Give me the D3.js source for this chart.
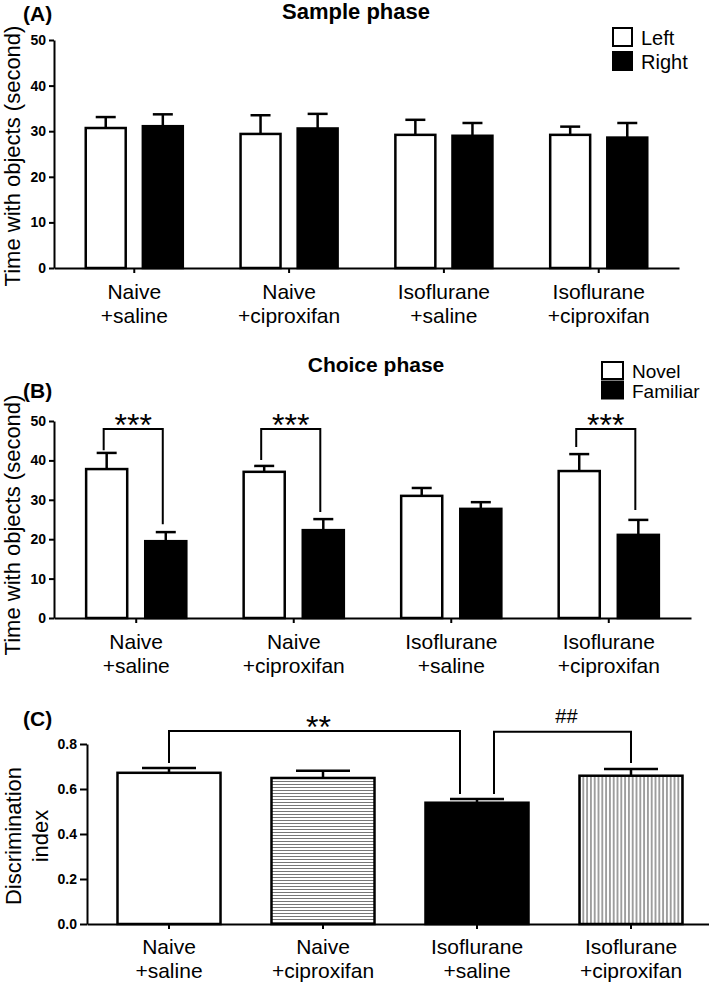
<!DOCTYPE html>
<html>
<head>
<meta charset="utf-8">
<script src="https://cdn.jsdelivr.net/npm/d3@7"></script>
<style>
  body { margin: 0; background: #fff; }
  svg { font-family: "Liberation Sans", Arial, sans-serif; }
</style>
</head>
<body>
<svg id="chart" width="709" height="983"></svg>
<script>
// group names (split on the space into two label lines)
const categories = ["Naive +saline", "Naive +ciproxifan", "Isoflurane +saline", "Isoflurane +ciproxifan"];

// (A) sample phase, seconds, mean and SEM
const sampleSeries = ["Left", "Right"];
const sampleLeft = [30.7, 29.4, 29.2, 29.2];
const sampleLeftSem = [2.4, 4.1, 3.3, 1.8];
const sampleRight = [31.1, 30.6, 29.0, 28.6];
const sampleRightSem = [2.6, 3.2, 2.8, 3.2];

// (B) choice phase
const choiceSeries = ["Novel", "Familiar"];
const choiceNovel = [37.8, 37.1, 31.0, 37.3];
const choiceNovelSem = [4.1, 1.5, 2.0, 4.3];
const choiceFamiliar = [19.5, 22.3, 27.7, 21.1];
const choiceFamiliarSem = [2.3, 2.8, 1.7, 3.8];
// brackets: group index, top, left end, right end (seconds)
const choiceSig = [
  { group: 0, top: 48, left: 42.6, right: 23.8, label: "***" },
  { group: 1, top: 48, left: 40.1, right: 26.9, label: "***" },
  { group: 3, top: 48, left: 43.4, right: 27.4, label: "***" }
];

// (C) discrimination index
const discIndex = [0.672, 0.649, 0.539, 0.659];
const discSem = [0.021, 0.032, 0.017, 0.030];
const discSig = [
  { from: 0, to: 2, top: 0.858, fromY: 0.716, toY: 0.578, label: "**" },
  { from: 2, to: 3, top: 0.855, fromY: 0.578, toY: 0.716, label: "##" }
];

const timeTicks = [0, 10, 20, 30, 40, 50];
const discTicks = [0, 0.2, 0.4, 0.6, 0.8];

const svg = d3.select("#chart");
const defs = svg.append("defs");

defs.append("pattern")
  .attr("id", "hlines")
  .attr("patternUnits", "userSpaceOnUse")
  .attr("width", 6).attr("height", 3)
  .call(p => {
    p.append("rect").attr("width", 6).attr("height", 3).attr("fill", "#fff");
    p.append("line").attr("x1", 0).attr("x2", 6).attr("y1", 1.5).attr("y2", 1.5)
      .attr("stroke", "#777").attr("stroke-width", 1);
  });

defs.append("pattern")
  .attr("id", "vlines")
  .attr("patternUnits", "userSpaceOnUse")
  .attr("width", 3.8).attr("height", 6)
  .call(p => {
    p.append("rect").attr("width", 3.8).attr("height", 6).attr("fill", "#fff");
    p.append("line").attr("x1", 1.9).attr("x2", 1.9).attr("y1", 0).attr("y2", 6)
      .attr("stroke", "#444").attr("stroke-width", 1);
  });

function styleAxis(ax) {
  ax.select(".domain").attr("stroke-width", 2);
  ax.selectAll(".tick line").attr("stroke-width", 2);
}

function xLabels(g, x, yPos) {
  categories.forEach(c => {
    const lines = c.split(" ");
    const t = g.append("text")
      .attr("text-anchor", "middle")
      .attr("font-size", 21)
      .attr("x", x(c) + x.bandwidth() / 2)
      .attr("y", yPos + 31);
    t.append("tspan").text(lines[0]);
    t.append("tspan").attr("x", x(c) + x.bandwidth() / 2).attr("dy", 24).text(lines[1]);
  });
}

function groupedPanel(cfg) {
  const g = svg.append("g");
  const x = d3.scaleBand().domain(categories)
    .range([cfg.x0, cfg.x1]).paddingInner(cfg.pi).paddingOuter(cfg.po);
  const xs = d3.scaleBand().domain(cfg.series)
    .range([0, x.bandwidth()]).paddingInner(cfg.spi);
  const y = d3.scaleLinear().domain([0, 50]).range([cfg.y0, cfg.y1]);

  cfg.series.forEach((s, si) => {
    const vals = cfg.values[si], sems = cfg.sems[si];
    categories.forEach((c, i) => {
      const bx = x(c) + xs(s);
      const cx = bx + xs.bandwidth() / 2;
      const top = y(vals[i] + sems[i]);
      g.append("line").attr("x1", cx).attr("x2", cx)
        .attr("y1", y(vals[i])).attr("y2", top)
        .attr("stroke", "#000").attr("stroke-width", 2.5);
      g.append("line").attr("x1", cx - 10).attr("x2", cx + 10)
        .attr("y1", top).attr("y2", top)
        .attr("stroke", "#000").attr("stroke-width", 2.5);
      g.append("rect")
        .attr("x", bx).attr("y", y(vals[i]))
        .attr("width", xs.bandwidth()).attr("height", y(0) - y(vals[i]))
        .attr("fill", si ? "#000" : "#fff")
        .attr("stroke", "#000").attr("stroke-width", 2.5);
    });
  });

  const ya = g.append("g").attr("transform", `translate(${cfg.x0},0)`)
    .call(d3.axisLeft(y).tickValues(timeTicks).tickSize(5).tickSizeOuter(0).tickPadding(3));
  ya.selectAll("text").attr("font-size", 14).attr("font-weight", "bold").attr("fill", "#000");
  styleAxis(ya);

  const xa = g.append("g").attr("transform", `translate(0,${cfg.y0})`)
    .call(d3.axisBottom(x).tickSize(5).tickSizeOuter(0).tickFormat(""));
  styleAxis(xa);
  xLabels(g, x, cfg.y0);

  g.append("text")
    .attr("transform", `translate(20,${cfg.labelY}) rotate(-90)`)
    .attr("text-anchor", "middle").attr("font-size", 22)
    .text("Time with objects (second)");

  g.append("text").attr("x", cfg.titleX).attr("y", cfg.titleY)
    .attr("text-anchor", "middle").attr("font-size", cfg.titleSize).attr("font-weight", "bold")
    .text(cfg.title);
  g.append("text").attr("x", 23).attr("y", cfg.tagY)
    .attr("font-size", 21).attr("font-weight", "bold").text(cfg.tag);

  // legend
  cfg.series.forEach((s, si) => {
    g.append("rect")
      .attr("x", cfg.legX).attr("y", cfg.legY + si * cfg.legStep)
      .attr("width", cfg.legW).attr("height", cfg.legH)
      .attr("fill", si ? "#000" : "#fff").attr("stroke", "#000").attr("stroke-width", 2);
    g.append("text")
      .attr("x", cfg.legX + cfg.legW + 9).attr("y", cfg.legY + si * cfg.legStep + cfg.legH - 1)
      .attr("font-size", cfg.legFont).text(s);
  });

  (cfg.sig || []).forEach(d => {
    const c = categories[d.group];
    const xl = x(c) + xs(cfg.series[0]) + xs.bandwidth() / 2 - 3;
    const xr = x(c) + xs(cfg.series[1]) + xs.bandwidth() / 2 - 3;
    g.append("path")
      .attr("d", `M${xl},${y(d.left)}V${y(d.top)}H${xr}V${y(d.right)}`)
      .attr("fill", "none").attr("stroke", "#000").attr("stroke-width", 2);
    g.append("text").attr("x", (xl + xr) / 2).attr("y", y(d.top) + 7)
      .attr("text-anchor", "middle").attr("font-size", 32).text(d.label);
  });
}

groupedPanel({
  x0: 54, x1: 679, y0: 268, y1: 40, pi: 0.373, po: 0.205, spi: 0.3,
  series: sampleSeries,
  values: [sampleLeft, sampleRight], sems: [sampleLeftSem, sampleRightSem],
  title: "Sample phase", titleX: 356, titleY: 19, titleSize: 22,
  tag: "(A)", tagY: 21, labelY: 156,
  legX: 613, legY: 28, legW: 19, legH: 18, legStep: 24, legFont: 20
});

groupedPanel({
  x0: 54, x1: 691, y0: 618, y1: 421, pi: 0.364, po: 0.204, spi: 0.305,
  series: choiceSeries,
  values: [choiceNovel, choiceFamiliar], sems: [choiceNovelSem, choiceFamiliarSem],
  title: "Choice phase", titleX: 376, titleY: 372, titleSize: 21,
  tag: "(B)", tagY: 398, labelY: 525,
  legX: 602, legY: 362, legW: 21, legH: 17, legStep: 19.5, legFont: 19,
  sig: choiceSig
});

// (C)
(function () {
  const g = svg.append("g");
  const x0 = 87, y0 = 924;
  const x = d3.scaleBand().domain(categories).range([x0, 713]).paddingInner(0.331).paddingOuter(0.198);
  const y = d3.scaleLinear().domain([0, 0.8]).range([y0, 744]);
  const fills = ["#fff", "url(#hlines)", "#000", "url(#vlines)"];

  categories.forEach((c, i) => {
    const cx = x(c) + x.bandwidth() / 2;
    const top = y(discIndex[i] + discSem[i]);
    g.append("line").attr("x1", cx).attr("x2", cx)
      .attr("y1", y(discIndex[i])).attr("y2", top)
      .attr("stroke", "#000").attr("stroke-width", 2.5);
    g.append("line").attr("x1", cx - 27).attr("x2", cx + 27)
      .attr("y1", top).attr("y2", top)
      .attr("stroke", "#000").attr("stroke-width", 2.5);
    g.append("rect")
      .attr("x", x(c)).attr("y", y(discIndex[i]))
      .attr("width", x.bandwidth()).attr("height", y(0) - y(discIndex[i]))
      .attr("fill", fills[i]).attr("stroke", "#000").attr("stroke-width", 2.5);
  });

  const ya = g.append("g").attr("transform", `translate(${x0},0)`)
    .call(d3.axisLeft(y).tickValues(discTicks).tickFormat(d3.format(".1f"))
      .tickSize(7).tickSizeOuter(0).tickPadding(3));
  ya.selectAll("text").attr("font-size", 14).attr("font-weight", "bold").attr("fill", "#000");
  styleAxis(ya);

  const xa = g.append("g").attr("transform", `translate(0,${y0})`)
    .call(d3.axisBottom(x).tickSize(5).tickSizeOuter(0).tickFormat(""));
  styleAxis(xa);
  xLabels(g, x, y0 - 1);

  g.append("text").attr("transform", "translate(21,836) rotate(-90)")
    .attr("text-anchor", "middle").attr("font-size", 22).text("Discrimination");
  g.append("text").attr("transform", "translate(48,836) rotate(-90)")
    .attr("text-anchor", "middle").attr("font-size", 22).text("index");

  g.append("text").attr("x", 23).attr("y", 726)
    .attr("font-size", 21).attr("font-weight", "bold").text("(C)");

  // brackets; ends on the shared bar are pulled inward
  const shared = 2, inset = 17;
  discSig.forEach(d => {
    let xl = x(categories[d.from]) + x.bandwidth() / 2;
    let xr = x(categories[d.to]) + x.bandwidth() / 2;
    if (d.from === shared) xl += inset;
    if (d.to === shared) xr -= inset;
    g.append("path")
      .attr("d", `M${xl},${y(d.fromY)}V${y(d.top)}H${xr}V${y(d.toY)}`)
      .attr("fill", "none").attr("stroke", "#000").attr("stroke-width", 2);
    const star = d.label.startsWith("*");
    g.append("text").attr("x", (xl + xr) / 2 + 4)
      .attr("y", star ? y(d.top) + 7 : y(d.top) - 9)
      .attr("text-anchor", "middle").attr("font-size", star ? 32 : 20)
      .text(d.label);
  });
})();
</script>
</body>
</html>
